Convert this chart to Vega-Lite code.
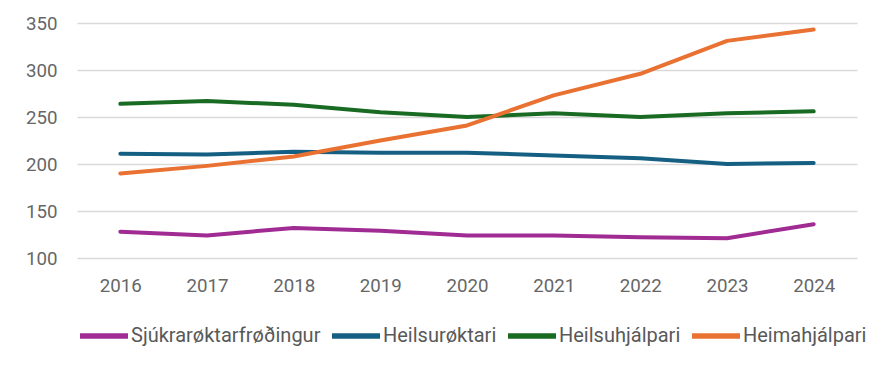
{
  "$schema": "https://vega.github.io/schema/vega-lite/v6.json",
  "width": 780,
  "height": 235,
  "autosize": {"type": "none"},
  "padding": {"left": 77, "top": 23, "right": 33, "bottom": 107},
  "background": "white",
  "config": {
    "view": {"stroke": null},
    "font": "Roboto",
    "axis": {"labelFont": "Roboto", "labelColor": "#666666", "labelFontSize": 18.7}
  },
  "data": {
    "values": [
      {"year": "2016", "series": "Sjúkrarøktarfrøðingur", "value": 128},
      {"year": "2017", "series": "Sjúkrarøktarfrøðingur", "value": 124},
      {"year": "2018", "series": "Sjúkrarøktarfrøðingur", "value": 132},
      {"year": "2019", "series": "Sjúkrarøktarfrøðingur", "value": 129},
      {"year": "2020", "series": "Sjúkrarøktarfrøðingur", "value": 124},
      {"year": "2021", "series": "Sjúkrarøktarfrøðingur", "value": 124},
      {"year": "2022", "series": "Sjúkrarøktarfrøðingur", "value": 122},
      {"year": "2023", "series": "Sjúkrarøktarfrøðingur", "value": 121},
      {"year": "2024", "series": "Sjúkrarøktarfrøðingur", "value": 136},
      {"year": "2016", "series": "Heilsurøktari", "value": 211},
      {"year": "2017", "series": "Heilsurøktari", "value": 210},
      {"year": "2018", "series": "Heilsurøktari", "value": 213},
      {"year": "2019", "series": "Heilsurøktari", "value": 212},
      {"year": "2020", "series": "Heilsurøktari", "value": 212},
      {"year": "2021", "series": "Heilsurøktari", "value": 209},
      {"year": "2022", "series": "Heilsurøktari", "value": 206},
      {"year": "2023", "series": "Heilsurøktari", "value": 200},
      {"year": "2024", "series": "Heilsurøktari", "value": 201},
      {"year": "2016", "series": "Heilsuhjálpari", "value": 264},
      {"year": "2017", "series": "Heilsuhjálpari", "value": 267},
      {"year": "2018", "series": "Heilsuhjálpari", "value": 263},
      {"year": "2019", "series": "Heilsuhjálpari", "value": 255},
      {"year": "2020", "series": "Heilsuhjálpari", "value": 250},
      {"year": "2021", "series": "Heilsuhjálpari", "value": 254},
      {"year": "2022", "series": "Heilsuhjálpari", "value": 250},
      {"year": "2023", "series": "Heilsuhjálpari", "value": 254},
      {"year": "2024", "series": "Heilsuhjálpari", "value": 256},
      {"year": "2016", "series": "Heimahjálpari", "value": 190},
      {"year": "2017", "series": "Heimahjálpari", "value": 198},
      {"year": "2018", "series": "Heimahjálpari", "value": 208},
      {"year": "2019", "series": "Heimahjálpari", "value": 225},
      {"year": "2020", "series": "Heimahjálpari", "value": 241},
      {"year": "2021", "series": "Heimahjálpari", "value": 273},
      {"year": "2022", "series": "Heimahjálpari", "value": 296},
      {"year": "2023", "series": "Heimahjálpari", "value": 331},
      {"year": "2024", "series": "Heimahjálpari", "value": 343}
    ]
  },
  "mark": {"type": "line", "strokeWidth": 4, "strokeCap": "round", "strokeJoin": "round"},
  "encoding": {
    "x": {
      "field": "year", "type": "ordinal", "title": null,
      "scale": {"type": "point", "padding": 0.5},
      "axis": {"labelAngle": 0, "domain": false, "ticks": false, "grid": false, "labelPadding": 18}
    },
    "y": {
      "field": "value", "type": "quantitative", "title": null,
      "scale": {"domain": [100, 350], "nice": false, "zero": false},
      "axis": {"values": [100, 150, 200, 250, 300, 350], "domain": false, "ticks": false, "gridColor": "#d9d9d9", "gridWidth": 1.5, "labelPadding": 20}
    },
    "color": {
      "field": "series", "type": "nominal", "title": null,
      "sort": ["Sjúkrarøktarfrøðingur", "Heilsurøktari", "Heilsuhjálpari", "Heimahjálpari"],
      "scale": {
        "domain": ["Sjúkrarøktarfrøðingur", "Heilsurøktari", "Heilsuhjálpari", "Heimahjálpari"],
        "range": ["#A02B93", "#156082", "#196B24", "#E97132"]
      },
      "legend": {
        "orient": "bottom", "direction": "horizontal", "offset": 14,
        "symbolType": "stroke", "symbolSize": 2304, "symbolStrokeWidth": 5.5,
        "labelFontSize": 20, "labelColor": "#595959", "labelFont": "Roboto",
        "labelOffset": 0, "columnPadding": 0, "labelLimit": 400
      }
    }
  }
}
